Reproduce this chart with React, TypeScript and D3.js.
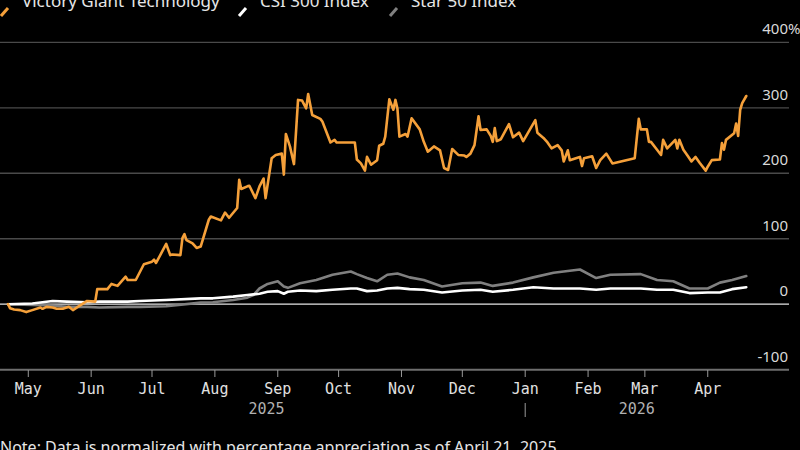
import React from 'react';
import * as d3 from 'd3';

// Victory Giant Technology, % change since April 21, 2025
const vgtDates = [
  '2025-04-21', '2025-04-22', '2025-04-24', '2025-04-27', '2025-04-30', '2025-05-03', '2025-05-07', '2025-05-08',
  '2025-05-10', '2025-05-13', '2025-05-15', '2025-05-18', '2025-05-21', '2025-05-23', '2025-05-26', '2025-05-30',
  '2025-06-03', '2025-06-04', '2025-06-09', '2025-06-11', '2025-06-14', '2025-06-18', '2025-06-19', '2025-06-23',
  '2025-06-27', '2025-07-01', '2025-07-02', '2025-07-03', '2025-07-08', '2025-07-10', '2025-07-11', '2025-07-15',
  '2025-07-16', '2025-07-17', '2025-07-18', '2025-07-21', '2025-07-23', '2025-07-25', '2025-07-29', '2025-07-30',
  '2025-08-04', '2025-08-06', '2025-08-08', '2025-08-12', '2025-08-13', '2025-08-14', '2025-08-17', '2025-08-18',
  '2025-08-21', '2025-08-23', '2025-08-25', '2025-08-26', '2025-08-29', '2025-08-31', '2025-09-03', '2025-09-04',
  '2025-09-05', '2025-09-07', '2025-09-09', '2025-09-11', '2025-09-13', '2025-09-15', '2025-09-16', '2025-09-18',
  '2025-09-22', '2025-09-23', '2025-09-27', '2025-09-29', '2025-09-30', '2025-10-09', '2025-10-10', '2025-10-12',
  '2025-10-14', '2025-10-15', '2025-10-17', '2025-10-20', '2025-10-21', '2025-10-23', '2025-10-24', '2025-10-26',
  '2025-10-28', '2025-10-29', '2025-10-30', '2025-10-31', '2025-11-03', '2025-11-04', '2025-11-06', '2025-11-10',
  '2025-11-12', '2025-11-14', '2025-11-17', '2025-11-20', '2025-11-22', '2025-11-24', '2025-11-26', '2025-11-29',
  '2025-12-02', '2025-12-03', '2025-12-05', '2025-12-07', '2025-12-09', '2025-12-10', '2025-12-13', '2025-12-15',
  '2025-12-16', '2025-12-17', '2025-12-18', '2025-12-20', '2025-12-24', '2025-12-26', '2025-12-29', '2025-12-31',
  '2026-01-06', '2026-01-07', '2026-01-10', '2026-01-12', '2026-01-14', '2026-01-17', '2026-01-19', '2026-01-20',
  '2026-01-22', '2026-01-23', '2026-01-26', '2026-01-28', '2026-01-29', '2026-01-30', '2026-02-03', '2026-02-05',
  '2026-02-07', '2026-02-10', '2026-02-13', '2026-02-24', '2026-02-26', '2026-02-27', '2026-03-02', '2026-03-03',
  '2026-03-04', '2026-03-07', '2026-03-09', '2026-03-10', '2026-03-12', '2026-03-16', '2026-03-17', '2026-03-18',
  '2026-03-20', '2026-03-22', '2026-03-24', '2026-03-26', '2026-03-28', '2026-03-31', '2026-04-01', '2026-04-03',
  '2026-04-07', '2026-04-08', '2026-04-09', '2026-04-10', '2026-04-14', '2026-04-15', '2026-04-16', '2026-04-17',
  '2026-04-18', '2026-04-20',
];
const vgtValues = [
  0, -6, -8, -9, -12, -9, -5, -7,
  -4, -5, -7, -7, -4, -9, -3, 5,
  4, 23, 23, 31, 28, 42, 37, 37,
  61, 65, 68, 63, 92, 75, 76, 75,
  101, 107, 98, 93, 86, 88, 129, 134,
  128, 140, 132, 147, 190, 176, 180, 181,
  162, 180, 192, 162, 223, 228, 230, 198,
  260, 241, 214, 312, 311, 299, 321, 289,
  283, 279, 247, 251, 247, 247, 221, 215,
  204, 225, 213, 220, 242, 245, 256, 313,
  297, 312, 299, 256, 260, 256, 284, 267,
  248, 233, 241, 235, 208, 205, 237, 228,
  227, 225, 230, 243, 287, 266, 267, 257,
  248, 269, 249, 252, 275, 255, 262, 249,
  281, 262, 254, 247, 238, 243, 235, 218,
  235, 220, 223, 225, 211, 223, 226, 208,
  220, 230, 215, 223, 283, 267, 267, 248,
  248, 236, 228, 251, 238, 251, 238, 251,
  236, 227, 218, 225, 216, 204, 210, 220,
  221, 246, 236, 251, 261, 276, 257, 297,
  307, 318,
];

// CSI 300 and Star 50 indexes, % change
const indexDates = [
  '2025-04-21', '2025-05-03', '2025-05-13', '2025-05-20', '2025-05-30', '2025-06-05', '2025-06-19', '2025-06-25',
  '2025-07-08', '2025-07-25', '2025-07-31', '2025-08-10', '2025-08-17', '2025-08-20', '2025-08-23', '2025-08-27',
  '2025-09-01', '2025-09-04', '2025-09-06', '2025-09-12', '2025-09-20', '2025-09-28', '2025-10-07', '2025-10-10',
  '2025-10-15', '2025-10-20', '2025-10-25', '2025-10-30', '2025-11-05', '2025-11-12', '2025-11-21', '2025-12-01',
  '2025-12-10', '2025-12-16', '2025-12-26', '2026-01-05', '2026-01-15', '2026-01-28', '2026-02-05', '2026-02-12',
  '2026-02-27', '2026-03-07', '2026-03-15', '2026-03-23', '2026-04-01', '2026-04-07', '2026-04-13', '2026-04-20',
];
const csiValues = [
  0, 1, 5, 4, 3, 4, 4, 5,
  6.5, 9, 9, 11.6, 14, 15, 16, 19,
  20, 16, 19, 21, 20, 22, 24, 24,
  20, 21, 24, 25, 23, 22, 18, 21,
  22, 19, 22, 26, 24, 24, 22, 24,
  24, 22, 22, 17, 18, 18, 23, 26,
];
const starValues = [
  0, -1, -2, -4, -4, -5, -4, -4,
  -3, 2.5, 3, 6.5, 10, 14, 24, 31,
  35, 27, 25, 32, 37, 45, 50, 46,
  40, 35, 45, 47, 41, 37, 27, 32,
  33, 28, 33, 41, 48, 53, 40, 45,
  46, 37, 35, 24, 24, 33, 37, 43,
];

const yTicks = [-100, 0, 100, 200, 300, 400];
const monthTicks = [
  '2025-05-01', '2025-06-01', '2025-07-01', '2025-08-01', '2025-09-01', '2025-10-01',
  '2025-11-01', '2025-12-01', '2026-01-01', '2026-02-01', '2026-03-01', '2026-04-01',
];
const yearLabels = ['2025', '2026'];
const legendLabels = ['Victory Giant Technology', 'CSI 300 Index', 'Star 50 Index'];
const noteText = 'Note: Data is normalized with percentage appreciation as of April 21, 2025.';

const W = 800;
const H = 450;
const parse = d3.utcParse('%Y-%m-%d');
const colors = ['#f5a03a', '#ffffff', '#808080'];

export default function App() {
  const x = d3.scaleUtc()
    .domain([parse('2025-04-21')!, parse('2026-04-21')!])
    .range([8, 748.3]);
  const y = d3.scaleLinear().domain([-100, 400]).range([369.7, 42.3]);
  const plotRight = 789;

  const mk = (dates: string[], vals: number[]) =>
    d3.line<number>()
      .x((_, i) => x(parse(dates[i])!))
      .y(v => y(v))(vals) || '';

  const series = [
    { path: mk(indexDates, starValues), color: colors[2] },
    { path: mk(indexDates, csiValues), color: colors[1] },
    { path: mk(vgtDates, vgtValues), color: colors[0] },
  ];

  const yearSplit = x(parse('2026-01-01')!);
  const yearCenters = [(x.range()[0] + yearSplit) / 2, (yearSplit + x.range()[1]) / 2];
  const fmtMonth = d3.utcFormat('%b');

  const legendX = [0, 238, 389];
  const sans = '"Noto Sans", "Open Sans", sans-serif';
  const mono = '"DejaVu Sans Mono", monospace';

  return (
    <div style={{ position: 'fixed', left: 0, top: 0, width: W, height: H, background: '#000' }}>
      <svg width={W} height={H} style={{ display: 'block' }}>
        <rect width={W} height={H} fill="#000" />

        {/* grid */}
        {yTicks.map(t => (
          <line key={t} x1={0} x2={plotRight} y1={y(t)} y2={y(t)}
            stroke={t === 0 ? '#e6e6e6' : t === -100 ? '#6e6e6e' : '#4a4a4a'}
            strokeWidth={t === -100 ? 2 : 1.3} />
        ))}
        {yTicks.map(t => (
          <text key={'l' + t} x={788} y={y(t) - 8} textAnchor="end" fill="#d9d9d9"
            fontFamily={sans} fontSize={15}>
            {t}
          </text>
        ))}
        <text x={788} y={y(400) - 8} fill="#d9d9d9" fontFamily={sans} fontSize={15}>%</text>

        {/* series */}
        {series.map((s, i) => (
          <path key={i} d={s.path} fill="none" stroke={s.color} strokeWidth={2.6}
            strokeLinejoin="round" strokeLinecap="round" />
        ))}

        {/* x axis */}
        {monthTicks.map(m => {
          const px = x(parse(m)!);
          return (
            <g key={m}>
              <line x1={px} x2={px} y1={370} y2={377} stroke="#9a9a9a" strokeWidth={1} />
              <text x={px} y={394} textAnchor="middle" fill="#e0e0e0" fontFamily={mono} fontSize={15}>
                {fmtMonth(parse(m)!)}
              </text>
            </g>
          );
        })}
        {yearLabels.map((yl, i) => (
          <text key={yl} x={yearCenters[i]} y={414} textAnchor="middle" fill="#b0b0b0"
            fontFamily={mono} fontSize={15}>{yl}</text>
        ))}
        <line x1={yearSplit} x2={yearSplit} y1={403} y2={417} stroke="#9a9a9a" strokeWidth={1} />

        {/* legend */}
        {legendLabels.map((lab, i) => (
          <g key={lab} transform={`translate(${legendX[i]},0)`}>
            <line x1={1} y1={16} x2={8} y2={8} stroke={colors[i]} strokeWidth={3} />
            <text x={22} y={7} fill="#e6e6e6" fontFamily={sans} fontSize={17}>{lab}</text>
          </g>
        ))}

        <text x={0} y={453} fill="#e6e6e6" fontFamily={sans} fontSize={16}>{noteText}</text>
      </svg>
    </div>
  );
}
